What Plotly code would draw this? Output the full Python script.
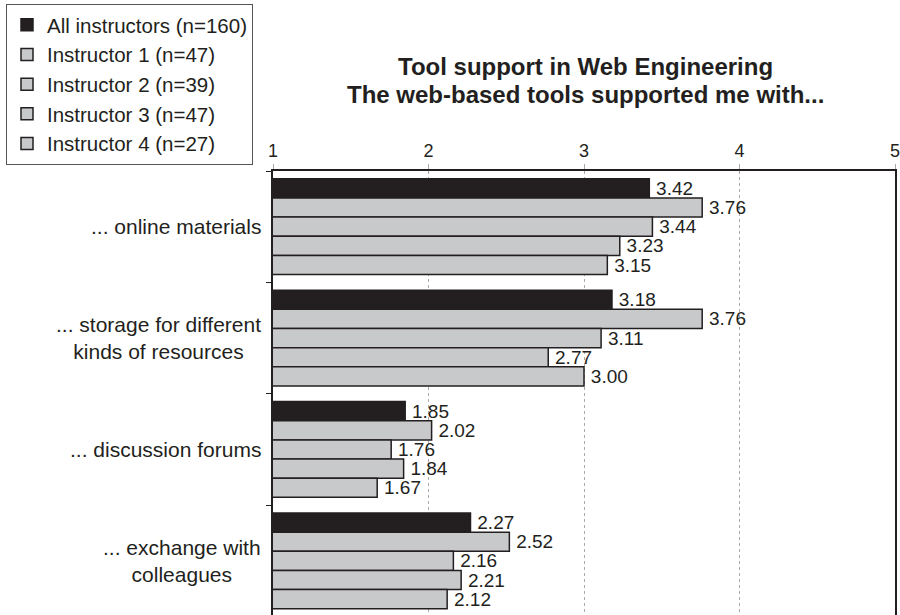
import plotly.graph_objects as go

# Survey items (y categories) and the mean ratings per group
categories = [
    "... online materials",
    "... storage for different<br>kinds of resources",
    "... discussion forums",
    "... exchange with<br>colleagues",
]
series_names = [
    "All instructors (n=160)",
    "Instructor 1 (n=47)",
    "Instructor 2 (n=39)",
    "Instructor 3 (n=47)",
    "Instructor 4 (n=27)",
]
all_instructors = [3.42, 3.18, 1.85, 2.27]
instructor_1 = [3.76, 3.76, 2.02, 2.52]
instructor_2 = [3.44, 3.11, 1.76, 2.16]
instructor_3 = [3.23, 2.77, 1.84, 2.21]
instructor_4 = [3.15, 3.00, 1.67, 2.12]
tick_values = [1, 2, 3, 4, 5]
title_lines = ["Tool support in Web Engineering",
               "The web-based tools supported me with..."]

series_values = [all_instructors, instructor_1, instructor_2, instructor_3, instructor_4]

INK = "#231f20"
GREY = "#c8c9cb"
FONT = "Liberation Sans, Arial, sans-serif"

W = 900
H = 615
LEFT = 273
RIGHT = 3
TOP = 171
PLOT_W = W - LEFT - RIGHT
PLOT_H = H - TOP


def paper_x(px):
    """Convert a pixel column to paper x."""
    return (px - LEFT) / PLOT_W


def paper_y(px):
    """Convert a pixel row (from the top of the page) to paper y."""
    return (H - px) / PLOT_H


fig = go.Figure()
for i, (name, vals) in enumerate(zip(series_names, series_values)):
    fig.add_trace(go.Bar(
        y=categories,
        x=vals,
        name=name,
        orientation="h",
        marker=dict(color=INK if i == 0 else GREY,
                    line=dict(color=INK, width=1.5)),
        texttemplate="\u2009%{x:.2f}",
        textposition="outside",
        constraintext="none",
        cliponaxis=False,
        textfont=dict(family=FONT, size=19, color=INK),
    ))

# Category labels, centred per line, to the left of the axis
for cat in categories:
    fig.add_annotation(
        xref="paper", yref="y", x=0, y=cat,
        text=cat, showarrow=False,
        xanchor="right", yanchor="middle", align="center",
        xshift=-10,
        font=dict(family=FONT, size=21, color=INK),
    )

# Two-line bold title
for line, row in zip(title_lines, [67, 94]):
    fig.add_annotation(
        xref="paper", yref="paper", x=paper_x(587), y=paper_y(row),
        text=f"<b>{line}</b>", showarrow=False,
        xanchor="center", yanchor="middle",
        font=dict(family=FONT, size=24, color=INK),
    )

fig.update_layout(
    width=W, height=H,
    margin=dict(l=LEFT, r=RIGHT, t=TOP, b=0),
    paper_bgcolor="white", plot_bgcolor="white",
    barmode="group", bargap=0.14, bargroupgap=0,
    font=dict(family=FONT, color=INK),
    legend=dict(
        xref="container", yref="container",
        x=6 / W, y=1 - 4 / H, xanchor="left", yanchor="top",
        bordercolor="#555555", borderwidth=1,
        bgcolor="white",
        font=dict(family=FONT, size=20.5, color=INK),
        traceorder="normal",
    ),
    xaxis=dict(
        side="top", range=[1, 5],
        tickmode="array", tickvals=tick_values, ticktext=[str(v) for v in tick_values],
        showline=True, linecolor=INK, linewidth=1.5,
        ticks="outside", ticklen=5, tickcolor="#aaaaaa", tickwidth=1,
        showgrid=True, gridcolor="#aaaaaa", gridwidth=1, griddash="dot",
        zeroline=False,
        ticklabeloverflow="allow",
        tickfont=dict(family=FONT, size=18, color=INK),
    ),
    yaxis=dict(
        categoryorder="array", categoryarray=categories,
        range=[3.486, -0.5],
        showticklabels=False,
        showline=True, linecolor=INK, linewidth=1.5, mirror=True,
        ticks="outside", tickson="boundaries", ticklen=5, tickcolor=INK, tickwidth=1,
        showgrid=False, zeroline=False,
    ),
    showlegend=True,
)

fig.write_html("out.html")
